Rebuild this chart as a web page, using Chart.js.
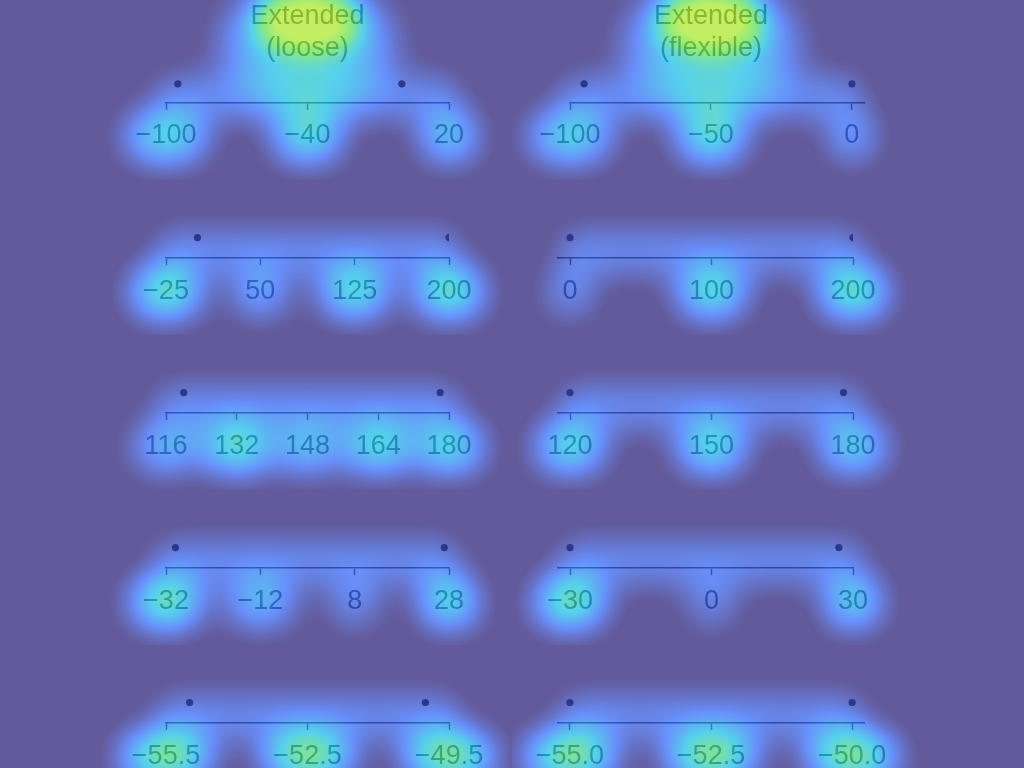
<!DOCTYPE html>
<html><head><meta charset="utf-8">
<script src="https://cdn.jsdelivr.net/npm/chart.js@4.4.1/dist/chart.umd.min.js"></script>
<style>
html,body{margin:0;padding:0;background:#635b9b;width:1024px;height:768px;overflow:hidden}
canvas{position:absolute}
</style></head><body>
<script>
// ---- data ----
const methodTitles = [['Extended','(loose)'], ['Extended','(flexible)']];
const dataMin = [-95, 0, 120, -30, -55];
const dataMax = [0, 200, 178, 27, -50];

const looseTicks  = [[-100,-40,20], [-25,50,125,200], [116,132,148,164,180], [-32,-12,8,28], [-55.5,-52.5,-49.5]];
const looseLabels = [['−100','−40','20'], ['−25','50','125','200'], ['116','132','148','164','180'], ['−32','−12','8','28'], ['−55.5','−52.5','−49.5']];
const flexTicks   = [[-100,-50,0], [0,100,200], [120,150,180], [-30,0,30], [-55,-52.5,-50]];
const flexLabels  = [['−100','−50','0'], ['0','100','200'], ['120','150','180'], ['−30','0','30'], ['−55.0','−52.5','−50.0']];
const flexAxisMin = [-100, -8.5, 117.45, -32.55, -55.21];
const flexAxisMax = [4.3, 200, 180, 30, -49.79];

// saliency overlay strength per tick label (styling)
const looseHeat = [[.52,.55,.52], [.62,.4,.57,.62], [.42,.6,.45,.55,.55], [.65,.42,.38,.62], [.8,.8,.8]];
const flexHeat  = [[.5,.57,.45], [.38,.57,.62], [.55,.55,.5], [.65,.35,.57], [.8,.77,.8]];

// ---- styling ----
const FONT = '"Liberation Sans", Arial, Helvetica, sans-serif';
const FS = 27;
const STOPS = [[0,[38,27,116]],[0.25,[46,100,248]],[0.5,[20,190,230]],[0.75,[90,225,80]],[1,[170,232,40]]];
const LUT = [];
for (let i = 0; i < 256; i++) {
  const t = i / 255;
  for (let s = 1; s < STOPS.length; s++) {
    if (t <= STOPS[s][0] + 1e-9) {
      const [t0,c0] = STOPS[s-1], [t1,c1] = STOPS[s];
      const f = (t - t0) / (t1 - t0);
      LUT.push([0,1,2].map(k => Math.round(c0[k] + (c1[k]-c0[k]) * f)));
      break;
    }
  }
}

const heatPlugin = {
  id: 'heat',
  afterLayout(chart, args, opts) {
    if (!opts.title || !chart.titleBlock) return;
    const xs = chart.scales.x, t = xs.ticks;
    const a = xs.getPixelForValue(t[0].value), b = xs.getPixelForValue(t[t.length-1].value);
    chart.titleBlock.left = a - 40; chart.titleBlock.right = b + 40;
    chart.titleBlock.width = b - a + 80;
  },
  beforeDraw(chart) {
    const c = chart.ctx; c.save(); c.fillStyle = '#ffffff'; c.fillRect(0,0,chart.width,chart.height); c.restore();
  },
  beforeDatasetsDraw(chart, args, opts) {
    const W = chart.width, H = chart.height;
    const off = document.createElement('canvas'); off.width = W; off.height = H;
    const o = off.getContext('2d');
    o.globalCompositeOperation = 'lighter';
    o.fillStyle = '#ffffff';
    const xs = chart.scales.x, ys = chart.scales.y;
    const ticks = xs.ticks;
    const lineY = xs.top, labelY = lineY + 31, dotY = ys.getPixelForValue(0.5);
    const x0 = xs.getPixelForValue(ticks[0].value), x1 = xs.getPixelForValue(ticks[ticks.length-1].value);
    o.filter = 'blur(16px)';
    o.globalAlpha = 0.26;
    o.fillRect(x0 - 8, dotY - 8, x1 - x0 + 16, lineY - dotY + 24);
    o.filter = 'blur(19px)';
    o.font = FS + 'px ' + FONT;
    ticks.forEach((t, i) => {
      const px = xs.getPixelForValue(t.value);
      const w = o.measureText(t.label).width;
      o.globalAlpha = Math.min(1, Math.max(0, (opts.heat[i] - 0.05) / 0.6));
      o.beginPath(); o.ellipse(px, labelY + 3, w/2 + 9, 20, 0, 0, Math.PI*2); o.fill();
    });
    if (opts.title) {
      const tb = chart.titleBlock;
      const cx = (tb.left + tb.right) / 2;
      o.filter = 'blur(22px)';
      o.globalAlpha = 0.45;
      o.beginPath(); o.ellipse(cx, 45, 85, 58, 0, 0, Math.PI*2); o.fill();
      o.filter = 'blur(16px)';
      o.globalAlpha = 0.78;
      o.beginPath(); o.ellipse(cx, 20, 50, 30, 0, 0, Math.PI*2); o.fill();
    }
    const TH = 10;
    const img = o.getImageData(0,0,W,H), d = img.data;
    for (let p = 0; p < d.length; p += 4) {
      const a = Math.max(0, d[p+3] - TH) * 255 / (255 - TH);
      const c = LUT[Math.min(255, Math.round(a))];
      d[p] = c[0]; d[p+1] = c[1]; d[p+2] = c[2]; d[p+3] = 184;
    }
    o.putImageData(img, 0, 0);
    chart.ctx.drawImage(off, 0, 0);
  }
};

function makePanel(col, row) {
  const loose = col === 0;
  const top = row === 0 ? 0 : 25 + 155 * row;
  const height = row === 0 ? 180 : (row === 4 ? 123 : 155);
  const cv = document.createElement('canvas');
  cv.width = 512; cv.height = height;
  cv.style.left = (col * 512) + 'px'; cv.style.top = top + 'px';
  document.body.appendChild(cv);

  const tickVals = loose ? looseTicks[row] : flexTicks[row];
  const tickLabs = loose ? looseLabels[row] : flexLabels[row];
  const axMin = loose ? tickVals[0] : flexAxisMin[row];
  const axMax = loose ? tickVals[tickVals.length-1] : flexAxisMax[row];

  let padL, padR;
  if (loose) { padL = 166; padR = 63; }
  else {
    padL = row === 0 ? 58 : 46;
    padR = (row === 0 || row === 4) ? 160 : 171;
  }
  const padB = row === 0 ? 17.8 : (row === 4 ? 4 : 35.8);

  new Chart(cv, {
    type: 'scatter',
    data: { datasets: [{
      data: [{x: dataMin[row], y: 0.5}, {x: dataMax[row], y: 0.5}],
      pointRadius: 3.6, pointBackgroundColor: '#2c388a', pointBorderWidth: 0, showLine: false
    }]},
    options: {
      responsive: false, animation: false, events: [],
      layout: { padding: { left: padL, right: padR, top: row === 0 ? 0 : 37, bottom: padB } },
      plugins: {
        legend: { display: false }, tooltip: { enabled: false },
        title: { display: row === 0, text: methodTitles[col], fullSize: false, color: '#3a3a3a',
                 font: { family: FONT, size: FS, weight: 'normal', lineHeight: 1.2 }, padding: { top: 0, bottom: 0 } },
        heat: { heat: loose ? looseHeat[row] : flexHeat[row], title: row === 0 }
      },
      scales: {
        x: {
          type: 'linear', position: 'bottom', min: axMin, max: axMax,
          afterBuildTicks: s => { s.ticks = tickVals.map(v => ({ value: v })); },
          ticks: { autoSkip: false, maxRotation: 0, padding: 10, color: '#3a3a3a',
                   font: { family: FONT, size: FS, lineHeight: 1.2 },
                   callback: (v, i) => tickLabs[i] },
          grid: { drawOnChartArea: false, drawTicks: true, tickLength: 7, tickWidth: 1.5, tickColor: '#303030' },
          border: { display: true, color: '#303030', width: 1.5 }
        },
        y: { display: false, min: 0, max: 1 }
      }
    },
    plugins: [heatPlugin]
  });
}

for (let r = 0; r < 5; r++) { makePanel(0, r); makePanel(1, r); }
</script>
</body></html>
